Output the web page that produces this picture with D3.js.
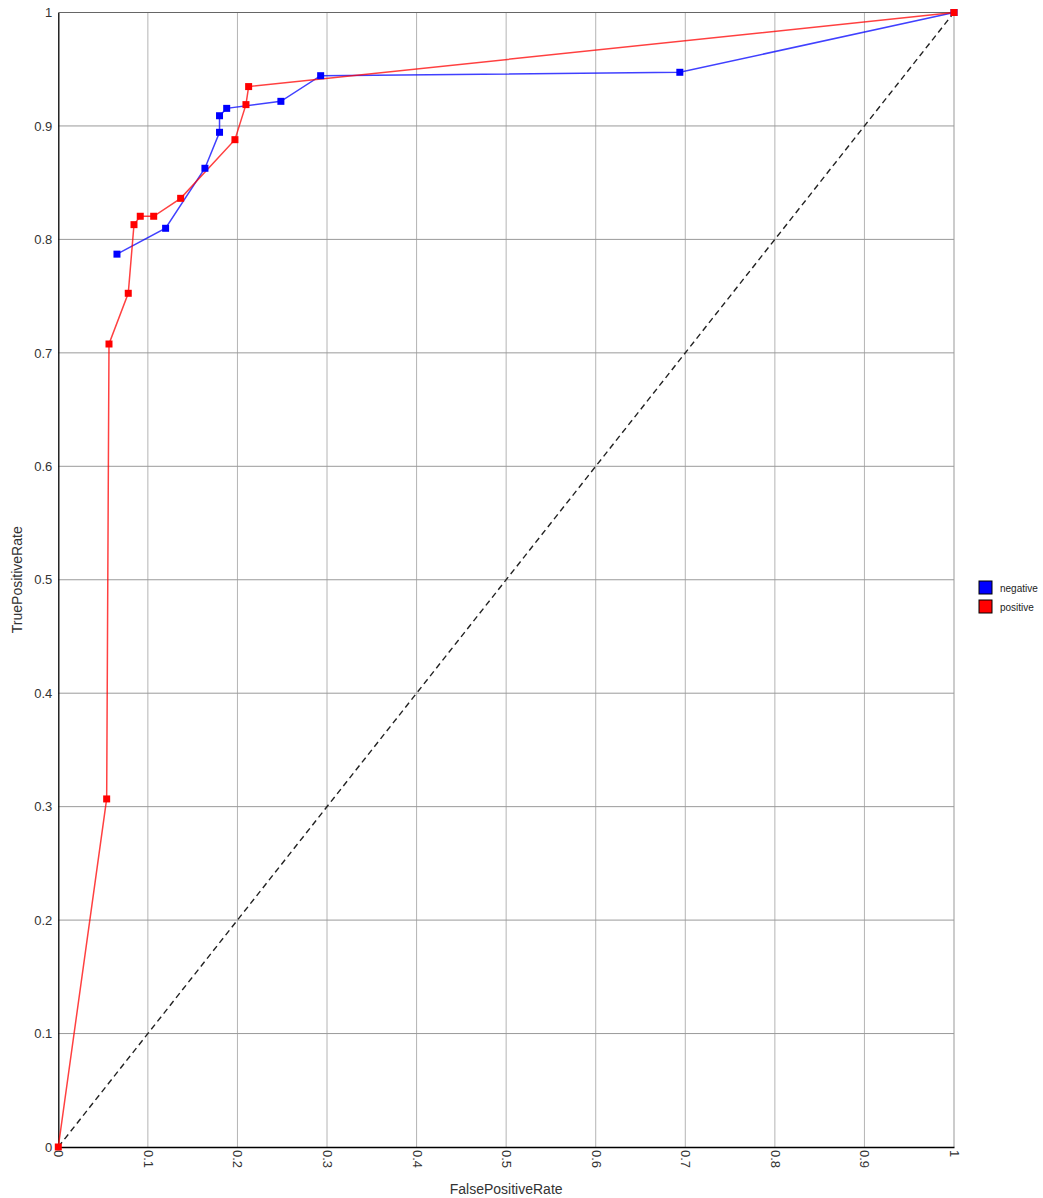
<!DOCTYPE html>
<html><head><meta charset="utf-8">
<script src="https://cdn.jsdelivr.net/npm/d3@7"></script>
<style>
html,body{margin:0;padding:0;background:#fff;}
text{font-family:"Liberation Sans",Arial,sans-serif;}
</style></head>
<body>
<svg id="chart" width="1043" height="1198"></svg>
<script>
const xTicks = [0,0.1,0.2,0.3,0.4,0.5,0.6,0.7,0.8,0.9,1];
const yTicks = [0,0.1,0.2,0.3,0.4,0.5,0.6,0.7,0.8,0.9,1];
const seriesNames = ["negative","positive"];
const seriesColors = ["#0000ff","#ff0000"];
const negativeFPR = [0.0655,0.1198,0.1637,0.1800,0.1800,0.1880,0.2485,0.2929,0.6939,1.0];
const negativeTPR = [0.7870,0.8098,0.8627,0.8944,0.9090,0.9155,0.9217,0.9443,0.9473,1.0];
const positiveFPR = [0.0,0.0540,0.0566,0.0781,0.0845,0.0915,0.1065,0.1366,0.1972,0.2095,0.2125,1.0];
const positiveTPR = [0.0,0.3068,0.7078,0.7525,0.8130,0.8204,0.8204,0.8362,0.8879,0.9188,0.9347,1.0];

const svg = d3.select("#chart");
const L = 58.3, R = 954, T = 12.5, B = 1147;
const x = d3.scaleLinear().domain([0,1]).range([L,R]);
const y = d3.scaleLinear().domain([0,1]).range([B,T]);

// grid
svg.append("g").selectAll("line").data(xTicks.slice(1,-1)).join("line")
  .attr("x1",d=>x(d)).attr("x2",d=>x(d)).attr("y1",T).attr("y2",B)
  .attr("stroke","#b4b4b4").attr("stroke-width",1);
svg.append("g").selectAll("line").data(yTicks.slice(1,-1)).join("line")
  .attr("x1",L).attr("x2",R).attr("y1",d=>y(d)).attr("y2",d=>y(d))
  .attr("stroke","#9a9a9a").attr("stroke-width",1);

// frame
svg.append("line").attr("x1",L).attr("x2",R).attr("y1",T).attr("y2",T).attr("stroke","#666");
svg.append("line").attr("x1",R).attr("x2",R).attr("y1",T).attr("y2",B).attr("stroke","#999");

// axes
const xAxis = svg.append("g").attr("transform",`translate(0,${B})`)
  .call(d3.axisBottom(x).tickValues(xTicks).tickSize(0).tickFormat(d=>d3.format("~g")(d)));
xAxis.select(".domain").attr("stroke","#000").attr("stroke-width",1.3);
xAxis.selectAll("text").attr("transform","rotate(90)").attr("text-anchor","start")
  .attr("x",3).attr("y",0).attr("dy","0.35em").attr("font-size",13).attr("fill","#333")
  .attr("font-family","Liberation Sans, Arial, sans-serif");
const yAxis = svg.append("g").attr("transform",`translate(${L},0)`)
  .call(d3.axisLeft(y).tickValues(yTicks).tickSize(0).tickFormat(d=>d3.format("~g")(d)));
yAxis.select(".domain").attr("stroke","#000").attr("stroke-width",1.3);
yAxis.selectAll("text").attr("x",-6).attr("font-size",13).attr("fill","#333")
  .attr("font-family","Liberation Sans, Arial, sans-serif");

// diagonal
svg.append("line").attr("x1",x(0)).attr("y1",y(0)).attr("x2",x(1)).attr("y2",y(1))
  .attr("stroke","#222").attr("stroke-width",1.4).attr("stroke-dasharray","6,4");

const series = [
  {name:seriesNames[0], color:seriesColors[0], pts:negativeFPR.map((v,i)=>[v,negativeTPR[i]])},
  {name:seriesNames[1], color:seriesColors[1], pts:positiveFPR.map((v,i)=>[v,positiveTPR[i]])}
];
const line = d3.line().x(d=>x(d[0])).y(d=>y(d[1]));
series.forEach(s=>{
  svg.append("path").attr("d",line(s.pts)).attr("fill","none")
    .attr("stroke",s.color).attr("stroke-opacity",0.75).attr("stroke-width",1.5);
});
series.forEach(s=>{
  svg.append("g").selectAll("rect").data(s.pts).join("rect")
    .attr("x",d=>x(d[0])-3.5).attr("y",d=>y(d[1])-3.5).attr("width",7).attr("height",7)
    .attr("fill",s.color);
});

// axis titles
svg.append("text").attr("x",(L+R)/2).attr("y",1194).attr("text-anchor","middle")
  .attr("font-size",14).attr("fill","#333").text("FalsePositiveRate");
svg.append("text").attr("transform",`translate(22,${(T+B)/2}) rotate(-90)`).attr("text-anchor","middle")
  .attr("font-size",14).attr("fill","#333").text("TruePositiveRate");

// legend
const lg = svg.append("g").attr("transform","translate(979,581)");
series.forEach((s,i)=>{
  lg.append("rect").attr("x",0).attr("y",i*19).attr("width",13).attr("height",13)
    .attr("fill",s.color).attr("stroke","#000").attr("stroke-width",1);
  lg.append("text").attr("x",21).attr("y",i*19+7).attr("dy","0.35em").attr("font-size",10)
    .attr("fill","#222").text(s.name);
});
</script>
</body></html>
